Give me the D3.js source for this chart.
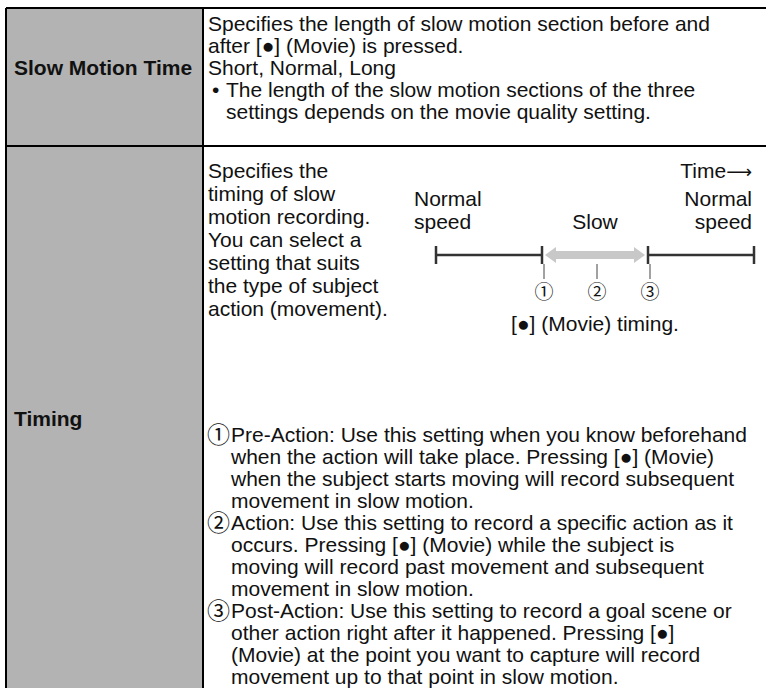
<!DOCTYPE html>
<html><head><meta charset="utf-8">
<script src="https://cdn.jsdelivr.net/npm/d3@7"></script>
<style>
body{margin:0;background:#fff}
text{font-family:"Liberation Sans",Arial,"DejaVu Sans",sans-serif;fill:#111;}
</style></head><body>
<svg id="c" width="766" height="688"></svg>
<script>
// ---- content data ----
const rowLabels = ["Slow Motion Time", "Timing"];
const row1Lines = [
  {t:"Specifies the length of slow motion section before and", indent:0},
  {t:"after [\u25CF] (Movie) is pressed.", indent:0},
  {t:"Short, Normal, Long", indent:0},
  {t:"The length of the slow motion sections of the three", indent:1, bullet:true},
  {t:"settings depends on the movie quality setting.", indent:1}
];
const row2Intro = ["Specifies the","timing of slow","motion recording.","You can select a","setting that suits","the type of subject","action (movement)."];
const timelineBounds = [0, 1, 2, 3];
const slowSpan = [1, 2];
const markerPos = [1, 1.5, 2];
const markerLabels = ["\u2460","\u2461","\u2462"];
const speedLabels = [{pos:0, align:"start", l:["Normal","speed"]},{pos:1.5, align:"middle", l:["","Slow"]},{pos:3, align:"end", l:["Normal","speed"]}];
const timeLabel = "Time";
const caption = "[\u25CF] (Movie) timing.";
const modes = [
  {n:"\u2460", lines:["Pre-Action: Use this setting when you know beforehand","when the action will take place. Pressing [\u25CF] (Movie)","when the subject starts moving will record subsequent","movement in slow motion."]},
  {n:"\u2461", lines:["Action: Use this setting to record a specific action as it","occurs. Pressing [\u25CF] (Movie) while the subject is","moving will record past movement and subsequent","movement in slow motion."]},
  {n:"\u2462", lines:["Post-Action: Use this setting to record a goal scene or","other action right after it happened. Pressing [\u25CF]","(Movie) at the point you want to capture will record","movement up to that point in slow motion."]}
];

// ---- layout ----
const W = 766, H = 688, FS = 21;
const tableLeft = 6, tableTop = 8, colX = 203, rowY = 146;
const svg = d3.select("#c");
const circFont = "'Noto Sans CJK JP','DejaVu Sans',sans-serif";

// header column fill
svg.append("rect").attr("x", tableLeft).attr("y", tableTop).attr("width", colX - tableLeft).attr("height", H - tableTop).attr("fill", "#b3b3b3");
// borders
const bl = [[tableLeft, tableTop, W, tableTop],[tableLeft, rowY, W, rowY],[tableLeft, tableTop, tableLeft, H],[colX, tableTop, colX, H]];
svg.selectAll("line.b").data(bl).join("line").attr("class","b")
  .attr("x1",d=>d[0]).attr("y1",d=>d[1]).attr("x2",d=>d[2]).attr("y2",d=>d[3])
  .attr("stroke","#000").attr("stroke-width",2);

// row labels
const labelY = [75, 426];
svg.selectAll("text.lab").data(rowLabels).join("text").attr("class","lab")
  .attr("x", 14).attr("y",(d,i)=>labelY[i]).attr("font-size",FS).attr("font-weight","bold").text(d=>d);

// row 1 text
const tx = 208, lh1 = 22, y1 = 31;
const g1 = svg.append("g");
g1.selectAll("text").data(row1Lines).join("text")
  .attr("x", d=> tx + (d.indent? 18:0)).attr("y",(d,i)=> y1 + i*lh1).attr("font-size",FS).text(d=>d.t);
g1.selectAll("text.bul").data(row1Lines.filter(d=>d.bullet)).join("text").attr("class","bul")
  .attr("x", tx+4).attr("y", y1 + 3*lh1).attr("font-size",FS).text("\u2022");

// row 2 intro
const y2 = 178, lh2 = 23;
svg.append("g").selectAll("text").data(row2Intro).join("text")
  .attr("x", tx).attr("y",(d,i)=> y2 + i*lh2).attr("font-size",FS).text(d=>d);
const tl = svg.append("text").attr("x", 752).attr("y", y2).attr("text-anchor","end").attr("font-size",FS);
tl.append("tspan").text(timeLabel);
tl.append("tspan").style("font-family","'DejaVu Sans',sans-serif").attr("font-size",18).text("\u27F6");

// timeline
const x = d3.scaleLinear().domain(d3.extent(timelineBounds)).range([436, 754]);
const ly = 255;
const tg = svg.append("g");
speedLabels.forEach(s=>{
  s.l.forEach((t,j)=>{
    if(!t) return;
    tg.append("text").attr("x", x(s.pos) + (s.align==="start"? -22 : s.align==="end"? -2 : 0))
      .attr("y", 206 + j*lh2).attr("text-anchor", s.align).attr("font-size",FS).text(t);
  });
});
// black segments
tg.selectAll("line.seg").data([[0,1],[2,3]]).join("line").attr("class","seg")
  .attr("x1",d=>x(d[0])).attr("x2",d=>x(d[1])).attr("y1",ly).attr("y2",ly)
  .attr("stroke","#333").attr("stroke-width",2.5);
// ticks
tg.selectAll("line.tk").data(timelineBounds).join("line").attr("class","tk")
  .attr("x1",d=>x(d)).attr("x2",d=>x(d)).attr("y1",ly-9).attr("y2",ly+9)
  .attr("stroke","#333").attr("stroke-width",2.5);
// gray double arrow
const ax0 = x(slowSpan[0]) + 3, ax1 = x(slowSpan[1]) - 3, hs = 4, hh = 8, hl = 11;
const arrowPts = [[ax0, ly],[ax0+hl, ly-hh],[ax0+hl, ly-hs],[ax1-hl, ly-hs],[ax1-hl, ly-hh],[ax1, ly],[ax1-hl, ly+hh],[ax1-hl, ly+hs],[ax0+hl, ly+hs],[ax0+hl, ly+hh]];
tg.append("path").attr("d", d3.line()(arrowPts) + "Z").attr("fill","#c8c8c8");
// leaders
tg.selectAll("line.ld").data(markerPos).join("line").attr("class","ld")
  .attr("x1",d=>x(d)+2).attr("x2",d=>x(d)+2).attr("y1",ly+9).attr("y2",ly+24)
  .attr("stroke","#444").attr("stroke-width",1);
tg.selectAll("text.mk").data(markerPos).join("text").attr("class","mk")
  .attr("x",d=>x(d)+2).attr("y", 299).attr("text-anchor","middle").attr("font-size",19)
  .style("font-family",circFont).text((d,i)=>markerLabels[i]);
tg.append("text").attr("x", x(1.5)).attr("y", 331).attr("text-anchor","middle").attr("font-size",FS).text(caption);

// modes
let yy = 442; const lh3 = 22;
const mg = svg.append("g");
modes.forEach(m=>{
  mg.append("text").attr("x", tx-1).attr("y", yy+1).attr("font-size",23).style("font-family",circFont).text(m.n);
  m.lines.forEach((t,j)=>{
    mg.append("text").attr("x", 231).attr("y", yy + j*lh3).attr("font-size",FS).text(t);
  });
  yy += m.lines.length*lh3;
});
</script></body></html>
